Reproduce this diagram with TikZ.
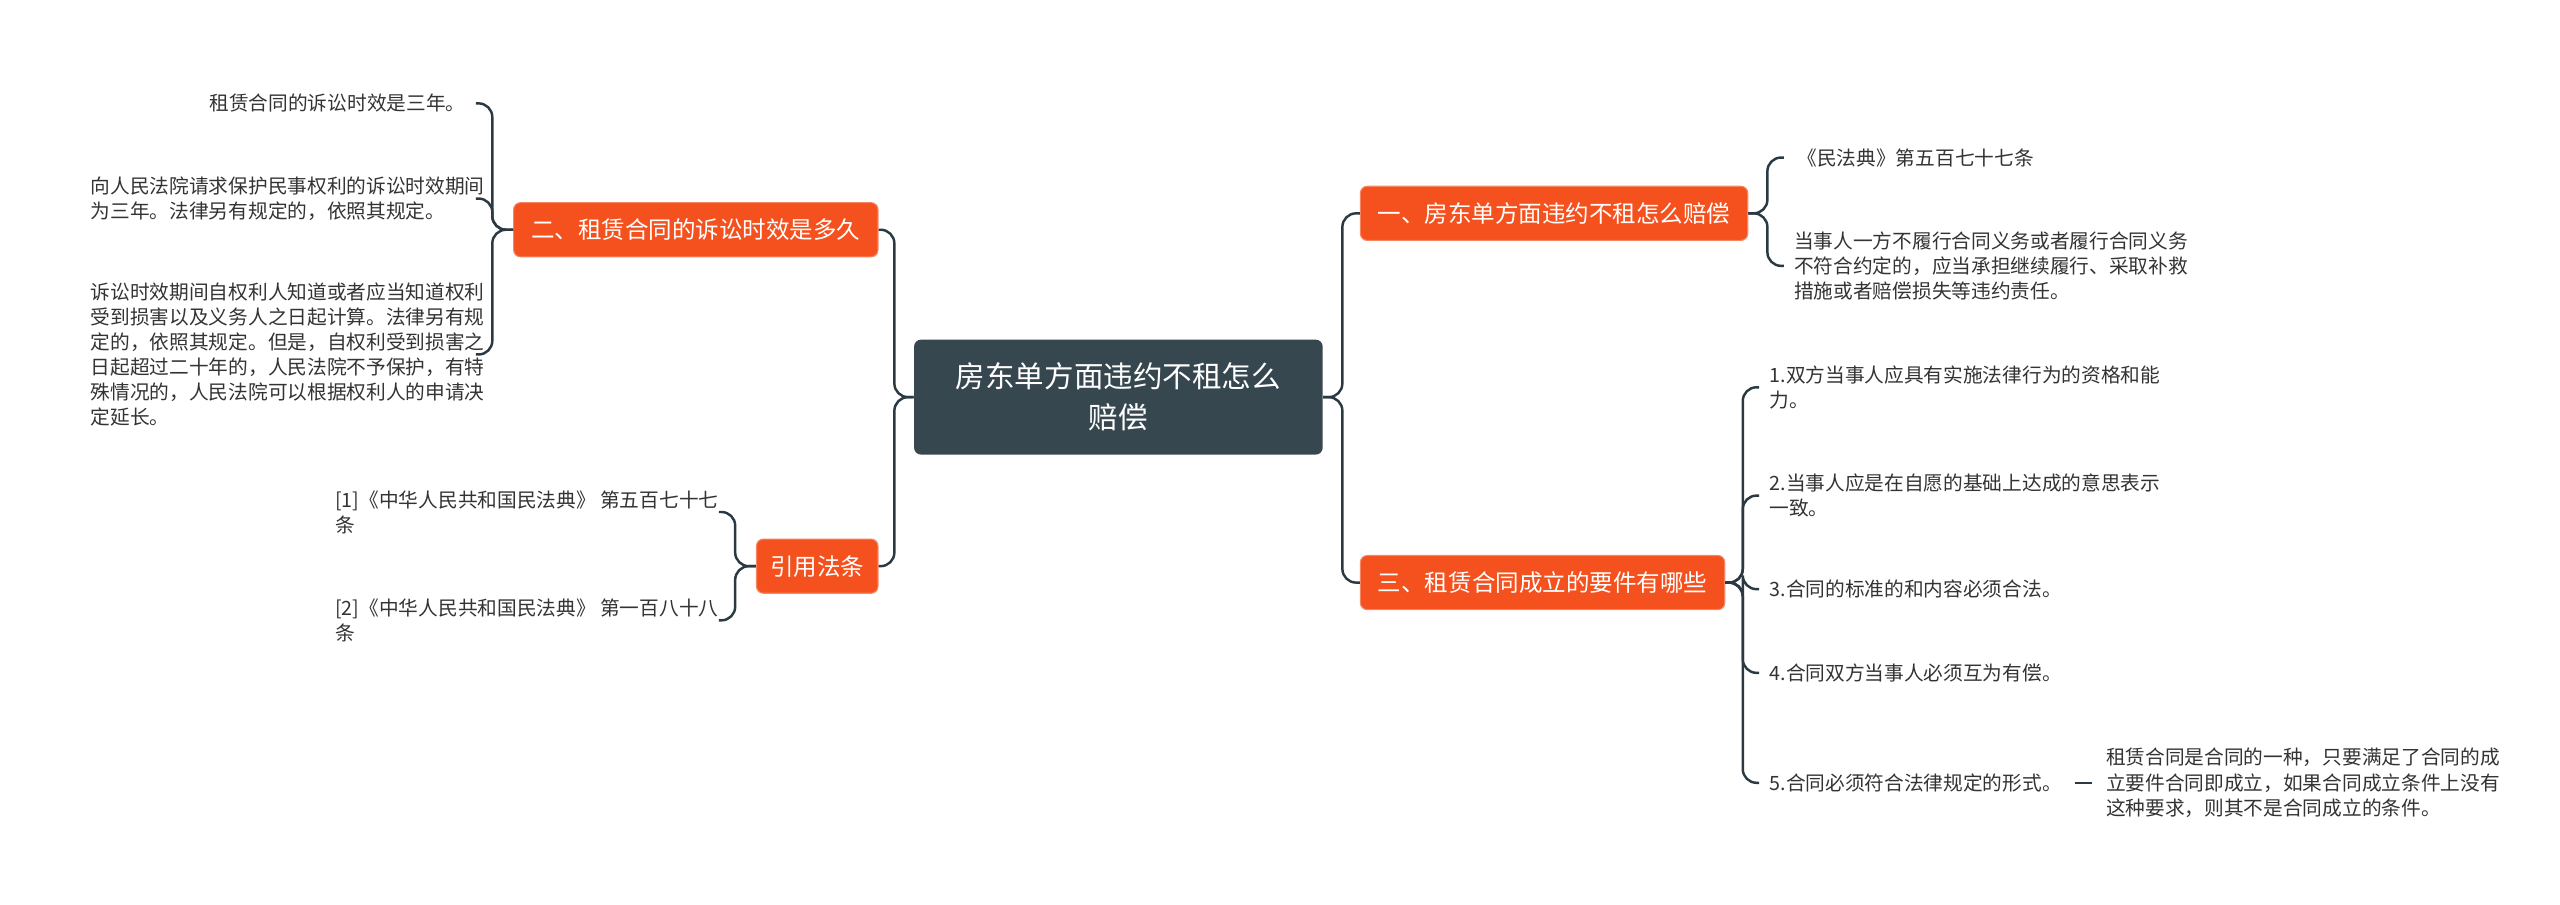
\documentclass[tikz,border=0pt]{standalone}
\usepackage{fontspec}
\newfontfamily\cjk{Noto Sans CJK SC}
\definecolor{ln}{HTML}{2B3A42}
\definecolor{org}{HTML}{F4511E}
\definecolor{dk}{HTML}{37474F}
\begin{document}
\begin{tikzpicture}[x=0.6pt,y=-0.6pt,
  every node/.style={font=\cjk},
  leaf/.style={font=\cjk\fontsize{7.2}{9.2}\selectfont,text=black!80,align=left,inner sep=0},
  lvl/.style={fill=org,text=white,rounded corners=2.5pt,inner sep=0,font=\cjk\fontsize{8.6}{10}\selectfont,minimum height=33*0.6pt,draw=org!70!white},
  con/.style={draw=ln,line width=0.9pt,rounded corners=5pt}]
\useasboundingbox (0,0) rectangle (1560,551);
\node[fill=dk,text=white,rounded corners=2.5pt,inner sep=0,minimum width=249*0.6pt,minimum height=70*0.6pt,align=center,font=\cjk\fontsize{10.8}{15}\selectfont] (c) at (681.5,242) {房东单方面违约不租怎么\\赔偿};
\node[lvl,minimum width=222*0.6pt] (a) at (424,140) {二、租赁合同的诉讼时效是多久};
\node[lvl,minimum width=74*0.6pt] (b) at (498,345) {引用法条};
\node[lvl,minimum width=236*0.6pt] (d) at (947,130) {一、房东单方面违约不租怎么赔偿};
\node[lvl,minimum width=222*0.6pt] (e) at (940,355) {三、租赁合同成立的要件有哪些};
\draw[con] (c.west) -- (545,242) |- (a.east);
\draw[con] (c.west) -- (545,242) |- (b.east);
\draw[con] (c.east) -- (818,242) |- (d.west);
\draw[con] (c.east) -- (818,242) |- (e.west);
% left leaves
\node[leaf,anchor=east] (a1) at (284,63) {租赁合同的诉讼时效是三年。};
\node[leaf,anchor=west] (a2) at (55,121) {向人民法院请求保护民事权利的诉讼时效期间\\为三年。法律另有规定的，依照其规定。};
\node[leaf,anchor=west] (a3) at (55,216) {诉讼时效期间自权利人知道或者应当知道权利\\受到损害以及义务人之日起计算。法律另有规\\定的，依照其规定。但是，自权利受到损害之\\日起超过二十年的，人民法院不予保护，有特\\殊情况的，人民法院可以根据权利人的申请决\\定延长。};
\foreach \n/\y in {a1/63,a2/121,a3/216}{\draw[con] (a.west) -- (300,140) |- (290,\y);}
\node[leaf,anchor=west] (b1) at (204,312) {[1]《中华人民共和国民法典》 第五百七十七\\条};
\node[leaf,anchor=west] (b2) at (204,378) {[2]《中华人民共和国民法典》 第一百八十八\\条};
\foreach \y in {312,378}{\draw[con] (b.west) -- (448,345) |- (438,\y);}
% right
\node[leaf,anchor=west] (d1) at (1095,96) {《民法典》第五百七十七条};
\node[leaf,anchor=west] (d2) at (1093,162) {当事人一方不履行合同义务或者履行合同义务\\不符合约定的，应当承担继续履行、采取补救\\措施或者赔偿损失等违约责任。};
\foreach \y in {96,162}{\draw[con] (d.east) -- (1077,130) |- (1087,\y);}
\node[leaf,anchor=west] (e1) at (1078,236) {1.双方当事人应具有实施法律行为的资格和能\\力。};
\node[leaf,anchor=west] (e2) at (1078,302) {2.当事人应是在自愿的基础上达成的意思表示\\一致。};
\node[leaf,anchor=west] (e3) at (1078,359) {3.合同的标准的和内容必须合法。};
\node[leaf,anchor=west] (e4) at (1078,410) {4.合同双方当事人必须互为有偿。};
\node[leaf,anchor=west] (e5) at (1078,477) {5.合同必须符合法律规定的形式。};
\foreach \y in {236,302,359,410,477}{\draw[con] (e.east) -- (1062,355) |- (1072,\y);}
\node[leaf,anchor=west] (f1) at (1283,477) {租赁合同是合同的一种，只要满足了合同的成\\立要件合同即成立，如果合同成立条件上没有\\这种要求，则其不是合同成立的条件。};
\draw[con] (e5.east) ++(8,0) -- (1275,477);
\end{tikzpicture}
\end{document}
